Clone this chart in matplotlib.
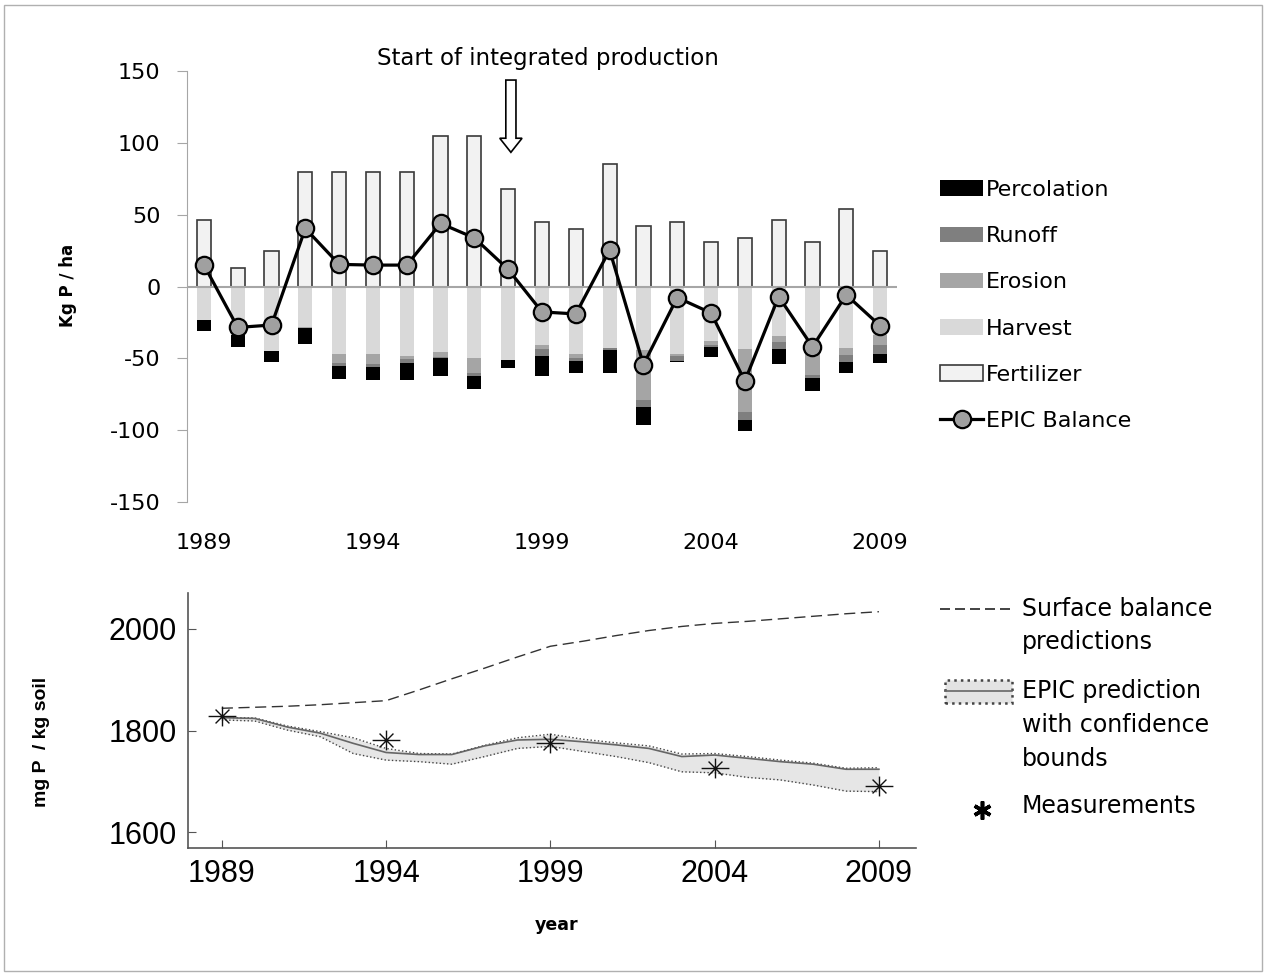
import numpy as np
import matplotlib
matplotlib.use("Agg")
import matplotlib.pyplot as plt
from matplotlib.patches import Rectangle, FancyArrow
from matplotlib.lines import Line2D
from matplotlib.path import Path

plt.rcParams["axes.unicode_minus"] = False

W, H = 1266, 976

years = list(range(1989, 2010))

# top panel: P budget (kg P / ha)
fertilizer = [46, 13, 25, 80, 80, 80, 80, 105, 105, 68, 45, 40, 85, 42, 45, 31, 34, 46, 31, 54, 25]
harvest = [23, 34, 45, 28.2, 46.7, 46.7, 48.5, 45.3, 49.5, 51.3, 40.4, 46.7, 42.9, 44.1, 46.7, 37.8, 43.2, 34.3, 44, 42.7, 33.8]
erosion = [0, 0, 0, 0.5, 6.3, 7.4, 2.1, 3.5, 10.9, 0, 3.0, 3.2, 0, 35.0, 1.9, 2.8, 44.1, 4.0, 17.8, 4.7, 6.6]
runoff = [0, 0, 0, 0, 2.3, 1.9, 2.8, 1.1, 1.7, 0, 4.7, 1.9, 1.2, 4.7, 3.0, 1.2, 5.8, 5.4, 1.9, 5.1, 6.3]
percolation = [7.7, 8.2, 7.7, 11.0, 9.3, 9.3, 11.9, 12.2, 9.3, 5.2, 14.4, 8.2, 15.9, 12.8, 0.9, 7.5, 7.5, 10.3, 9.3, 7.5, 6.3]
epic_balance = [15, -28.5, -26.8, 40.4, 15.4, 14.9, 14.9, 43.9, 33.8, 11.9, -17.7, -19.1, 25.4, -54.4,
                -7.7, -18.4, -65.8, -7, -42, -5.8, -27.3]

# bottom panel: soil P (mg P / kg soil)
surface_balance = [1844, 1846, 1848, 1851, 1855, 1859, 1880, 1902, 1923, 1945, 1966,
                   1976, 1987, 1997, 2005, 2011, 2015, 2020, 2025, 2030, 2034]
epic_pred = [1825.6, 1824, 1807, 1795, 1775, 1757, 1753, 1753, 1770, 1781.6, 1783,
             1778, 1772, 1765, 1749, 1752, 1745.6, 1739, 1734, 1724, 1724]
epic_upper = [1826, 1825, 1809, 1798, 1786, 1765, 1755, 1754, 1771, 1786, 1793,
              1783, 1776, 1770, 1754, 1755, 1749, 1742, 1736, 1726, 1727]
epic_lower = [1821, 1819, 1801, 1788, 1755, 1742, 1739, 1734, 1749, 1765, 1769,
              1759, 1749, 1737, 1719, 1717, 1708, 1703, 1693, 1681, 1680]
meas_years = [1989, 1994, 1999, 2004, 2009]
measurements = [1829, 1782, 1776, 1727, 1692]

tick_years = [1989, 1994, 1999, 2004, 2009]


def fy(px):
    return 1 - px / H


fig = plt.figure(figsize=(W / 100, H / 100), dpi=100)
fig.patches.append(Rectangle((4 / W, fy(971)), 1258 / W, 966 / H, transform=fig.transFigure,
                             fill=False, ec="#b0b0b0", lw=1))

# ---------------- top panel
ax1 = fig.add_axes([187 / W, fy(502), (897 - 187) / W, (502 - 71) / H])
bw = 0.42
handles = {}
handles["Fertilizer"] = ax1.bar(years, fertilizer, width=bw, color="#F2F2F2", edgecolor="#3a3a3a", lw=1.2, zorder=2)
bottom = np.zeros(len(years))
for name, vals, col in [("Harvest", harvest, "#D9D9D9"), ("Erosion", erosion, "#A5A5A5"),
                        ("Runoff", runoff, "#7F7F7F"), ("Percolation", percolation, "#000000")]:
    v = -np.array(vals, dtype=float)
    handles[name] = ax1.bar(years, v, bottom=bottom, width=bw, color=col, lw=0, zorder=2)
    bottom += v
ax1.axhline(0, color="#A6A6A6", lw=1.5, zorder=3)
handles["EPIC Balance"], = ax1.plot(years, epic_balance, color="black", lw=2.3, marker="o", ms=12.5,
                                    mfc="#A0A0A0", mec="black", mew=1.6, zorder=5)

ax1.set_xlim(1988.5, 2009.5)
ax1.set_ylim(-150, 150)
ax1.set_yticks(range(-150, 151, 50))
ax1.set_xticks(tick_years)
for s in ["top", "right", "bottom"]:
    ax1.spines[s].set_visible(False)
ax1.spines["left"].set_color("#A6A6A6")
ax1.tick_params(axis="x", length=0, pad=22, labelsize=16)
ax1.tick_params(axis="y", length=7, color="#A6A6A6", pad=12, labelsize=16)

ax1.add_patch(FancyArrow(1998.08, 143.7, 0, -50.3, width=0.3, head_width=0.66, head_length=9.8,
                         length_includes_head=True, fc="white", ec="black", lw=1.2, clip_on=False, zorder=6))
fig.text(548 / W, fy(58), "Start of integrated production", ha="center", va="center", fontsize=16.5)
fig.text(68 / W, fy(285), "Kg P / ha", rotation=90, ha="center", va="center", fontsize=12, fontweight="bold")

order = ["Percolation", "Runoff", "Erosion", "Harvest", "Fertilizer", "EPIC Balance"]
ax1.legend([handles[k] for k in order], order, loc="upper left", bbox_to_anchor=(940 / W, fy(180)),
           bbox_transform=fig.transFigure, frameon=False, fontsize=16, handlelength=1.95,
           handletextpad=0.1, labelspacing=1.18, borderpad=0, borderaxespad=0)

# ---------------- bottom panel
ax2 = fig.add_axes([188.3 / W, fy(848.3), (915.7 - 188.3) / W, (848.3 - 593) / H])
ax2.plot(years, surface_balance, color="#333333", lw=1, ls=(0, (8, 4)))
ax2.fill_between(years, epic_lower, epic_upper, color="#E6E6E6", lw=0)
ax2.plot(years, epic_upper, color="#444444", lw=1, ls=":")
ax2.plot(years, epic_lower, color="#444444", lw=1, ls=":")
ax2.plot(years, epic_pred, color="#666666", lw=1.2)

star = Path([(-1.4, 0), (1.4, 0), (0, -1), (0, 1), (-0.7, -0.7), (0.7, 0.7), (-0.7, 0.7), (0.7, -0.7)],
            [Path.MOVETO, Path.LINETO] * 4)
ax2.plot(meas_years, measurements, ls="none", marker=star, ms=20, mec="#111111", mew=1, zorder=5)

ax2.set_xlim(1987.98, 2010.12)
ax2.set_ylim(1568.5, 2070.8)
ax2.set_xticks(tick_years)
ax2.set_yticks([1600, 1800, 2000])
for s in ["top", "right"]:
    ax2.spines[s].set_visible(False)
for s in ["left", "bottom"]:
    ax2.spines[s].set_color("#555555")
    ax2.spines[s].set_linewidth(1.2)
ax2.tick_params(direction="in", length=6, color="#555555", pad=8, labelsize=22)
for lab in ax2.get_xticklabels() + ax2.get_yticklabels():
    lab.set_fontfamily("Liberation Sans")

fig.text(42 / W, fy(742), "mg P  / kg soil", rotation=90, ha="center", va="center", fontsize=14,
         fontweight="bold", family="Liberation Sans")
fig.text(557 / W, fy(925), "year", ha="center", va="center", fontsize=12.5, fontweight="bold")

# bottom legend drawn by hand
fig.add_artist(Line2D([940 / W, 1012 / W], [fy(609)] * 2, color="#222222", lw=1.2, ls=(0, (6, 3))))
fig.add_artist(Rectangle((945 / W, fy(703)), 67 / W, 23 / H, transform=fig.transFigure,
                         fc="#E3E3E3", ec="#444444", ls=":", lw=1.8))
fig.add_artist(Line2D([945 / W, 1012 / W], [fy(691)] * 2, color="#666666", lw=1.2))
fig.add_artist(Line2D([982 / W], [fy(810)], marker=(6, 2, 0), ms=13, mew=2.6, color="black", ls="none"))
leg_lines = [("Surface balance", 609), ("predictions", 642), ("EPIC prediction", 691),
             ("with confidence", 725), ("bounds", 759), ("Measurements", 806)]
for txt, py in leg_lines:
    fig.text(1022 / W, fy(py), txt, ha="left", va="center", fontsize=17)

fig.savefig("out.png", dpi=100)
